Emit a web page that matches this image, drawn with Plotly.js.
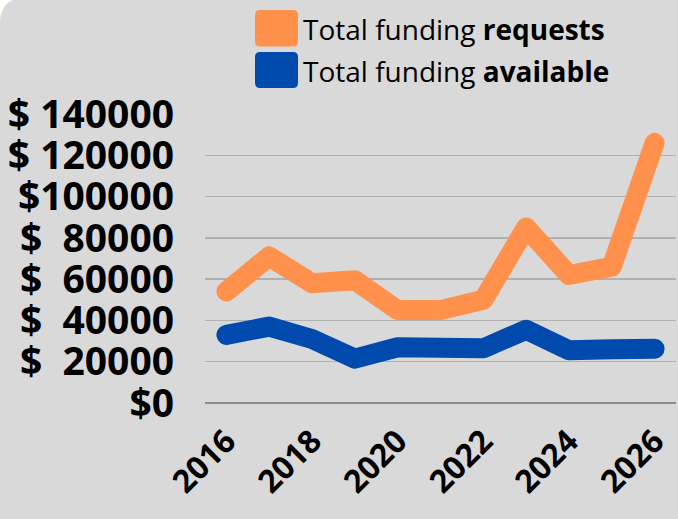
<!DOCTYPE html>
<html>
<head>
<meta charset="utf-8">
<script src="https://cdn.plot.ly/plotly-3.0.1.min.js"></script>
<style>
  html, body { margin: 0; padding: 0; background: #d9d9d9; }
  #chart { width: 678px; height: 519px; }
  .js-line { stroke-linecap: round !important; stroke-linejoin: round !important; }
</style>
</head>
<body>
<div id="chart"></div>
<script>
const years = [2016, 2017, 2018, 2019, 2020, 2021, 2022, 2023, 2024, 2025, 2026];
const fundingRequests = [54000, 71000, 58000, 59500, 45000, 45000, 50000, 85000, 62000, 66000, 126000];
const fundingAvailable = [33000, 37000, 31000, 21500, 27000, 27000, 26500, 35500, 25500, 26000, 26300];
const seriesNames = ['Total funding <b>requests</b>', 'Total funding <b>available</b>'];
const yTickVals = [0, 20000, 40000, 60000, 80000, 100000, 120000, 140000];
const yTickText = ['$0', '$\u00a0\u00a020000', '$\u00a0\u00a040000', '$\u00a0\u00a060000', '$\u00a0\u00a080000', '$100000', '$\u00a0120000', '$\u00a0140000'];
const xTickVals = [2016, 2018, 2020, 2022, 2024, 2026];

const W = 678, H = 519;
const M = {l: 205, r: 2, t: 114, b: 116};
const pw = W - M.l - M.r, ph = H - M.t - M.b;
const px = x => (x - M.l) / pw;
const py = y => (H - M.b - y) / ph;

function roundRect(x0, y0, x1, y1, r) {
  const rx = r / pw, ry = r / ph;
  const X0 = px(x0), X1 = px(x1), Y0 = py(y0), Y1 = py(y1);
  return `M${X0 + rx},${Y0} L${X1 - rx},${Y0} Q${X1},${Y0} ${X1},${Y0 - ry} ` +
         `L${X1},${Y1 + ry} Q${X1},${Y1} ${X1 - rx},${Y1} L${X0 + rx},${Y1} ` +
         `Q${X0},${Y1} ${X0},${Y1 + ry} L${X0},${Y0 - ry} Q${X0},${Y0} ${X0 + rx},${Y0} Z`;
}

const orange = '#ff914d', blue = '#004aad';

const traces = [
  {x: years, y: fundingRequests, type: 'scatter', mode: 'lines', name: seriesNames[0],
   line: {color: orange, width: 20}, cliponaxis: false, hoverinfo: 'x+y'},
  {x: years, y: fundingAvailable, type: 'scatter', mode: 'lines', name: seriesNames[1],
   line: {color: blue, width: 20}, cliponaxis: false, hoverinfo: 'x+y'}
];

const shapes = [
  {type: 'path', xref: 'paper', yref: 'paper', path: roundRect(255, 10, 298, 46.5, 5), fillcolor: orange, line: {width: 0}},
  {type: 'path', xref: 'paper', yref: 'paper', path: roundRect(255, 52, 298, 88, 5), fillcolor: blue, line: {width: 0}},
  {type: 'path', xref: 'paper', yref: 'paper',
   path: `M${px(0)},${py(0)} L${px(14)},${py(0)} Q${px(2)},${py(3)} ${px(0)},${py(21)} Z`,
   fillcolor: '#ffffff', line: {width: 0}},
  {type: 'line', xref: 'paper', yref: 'paper', x0: px(12.5), x1: px(12.5), y0: py(0), y1: py(7), line: {color: '#cfe2f3', width: 1.5}},
  {type: 'line', xref: 'paper', yref: 'paper', x0: px(0), x1: px(5), y0: py(16), y1: py(16), line: {color: '#cfe2f3', width: 1.5}}
];

const annotations = [
  {xref: 'paper', yref: 'paper', x: px(301), y: py(29), xanchor: 'left', yanchor: 'middle', showarrow: false,
   text: seriesNames[0], font: {family: 'Open Sans', size: 28, color: '#000000'}},
  {xref: 'paper', yref: 'paper', x: px(301), y: py(71), xanchor: 'left', yanchor: 'middle', showarrow: false,
   text: seriesNames[1], font: {family: 'Open Sans', size: 28, color: '#000000'}}
];

const layout = {
  width: W, height: H,
  margin: M,
  paper_bgcolor: '#d9d9d9',
  plot_bgcolor: '#d9d9d9',
  showlegend: false,
  font: {family: 'Open Sans', color: '#000000'},
  xaxis: {
    range: [2015.5, 2026.5],
    tickvals: xTickVals,
    ticktext: xTickVals.map(String),
    tickangle: -45,
    showgrid: false, zeroline: false, showline: false,
    ticks: '',
    ticklabelstandoff: 12,
    tickfont: {family: 'Open Sans', size: 32, weight: 700, color: '#000000'},
    fixedrange: true
  },
  yaxis: {
    range: [0, 140000],
    tickvals: yTickVals,
    ticktext: yTickText,
    showgrid: true, gridcolor: '#b0b0b0', gridwidth: 1.5,
    zeroline: true, zerolinecolor: '#8c8c8c', zerolinewidth: 1.5,
    showline: false, ticks: '',
    ticklabelstandoff: 30,
    tickfont: {family: 'Open Sans', size: 39, weight: 700, color: '#000000'},
    fixedrange: true
  },
  shapes: shapes,
  annotations: annotations
};

Plotly.newPlot('chart', traces, layout, {displayModeBar: false, staticPlot: true});
</script>
</body>
</html>
